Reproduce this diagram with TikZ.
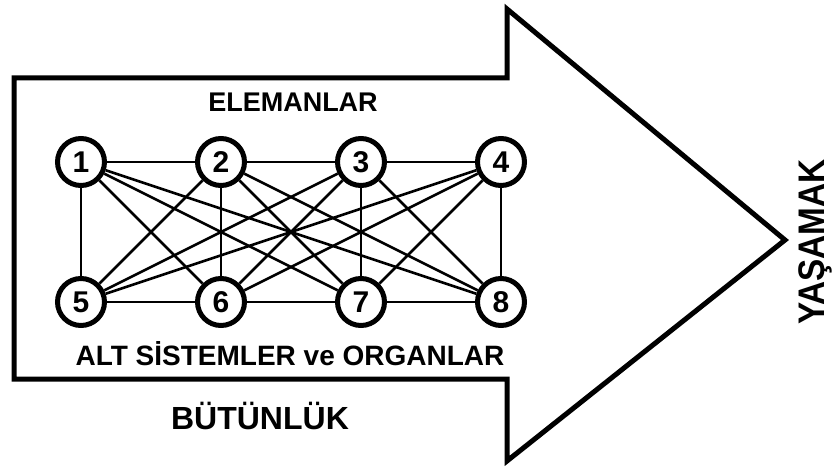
\documentclass[tikz,border=0pt]{standalone}
\usepackage{fontspec}
\setmainfont{Liberation Sans}
\usetikzlibrary{positioning}
\tikzstyle{organ} = [circle, minimum size=47pt, inner sep=0pt, draw=black, line width=5pt, fill=white, font=\fontsize{30}{30}\selectfont\bfseries]
\tikzstyle{link} = [line width=2.6pt]
\tikzstyle{outline} = [line width=5pt, line join=miter]
\tikzstyle{label} = [anchor=base, inner sep=0pt, font=\bfseries]

\begin{document}
\begin{tikzpicture}[x=1pt, y=-1pt, node distance=140pt]
	\useasboundingbox (0,0) rectangle (833,476);
	% big arrow
	\draw [outline] (14,78) -- (507,78) -- (507,9) -- (785,240) -- (507,461) -- (507,379) -- (14,379) -- cycle;
	% elements
	\node (n1) [organ] at (81,162) {1};
	\node (n2) [organ, right of=n1] {2};
	\node (n3) [organ, right of=n2] {3};
	\node (n4) [organ, right of=n3] {4};
	\node (n5) [organ, below of=n1] {5};
	\node (n6) [organ, below of=n2] {6};
	\node (n7) [organ, below of=n3] {7};
	\node (n8) [organ, below of=n4] {8};
	\draw [link] (n1) -- (n2) -- (n3) -- (n4);
	\draw [link] (n5) -- (n6) -- (n7) -- (n8);
	\draw [link] (n1) -- (n5); \draw [link] (n1) -- (n6); \draw [link] (n1) -- (n7); \draw [link] (n1) -- (n8);
	\draw [link] (n2) -- (n5); \draw [link] (n2) -- (n6); \draw [link] (n2) -- (n7); \draw [link] (n2) -- (n8);
	\draw [link] (n3) -- (n5); \draw [link] (n3) -- (n6); \draw [link] (n3) -- (n7); \draw [link] (n3) -- (n8);
	\draw [link] (n4) -- (n5); \draw [link] (n4) -- (n6); \draw [link] (n4) -- (n7); \draw [link] (n4) -- (n8);
	% texts
	\node (elem) [label, font=\fontsize{27}{27}\selectfont\bfseries] at (293,112) {ELEMANLAR};
	\node (alt) [label, font=\fontsize{28}{28}\selectfont\bfseries] at (290,365) {ALT SİSTEMLER ve ORGANLAR};
	\node (butun) [label, font=\fontsize{32}{32}\selectfont\bfseries] at (260,429) {BÜTÜNLÜK};
	\node (yasam) [label, rotate=90, font=\fontsize{37}{37}\selectfont\bfseries] at (824,242) {\scalebox{0.9}[1]{YAŞAMAK}};
\end{tikzpicture}
\end{document}
